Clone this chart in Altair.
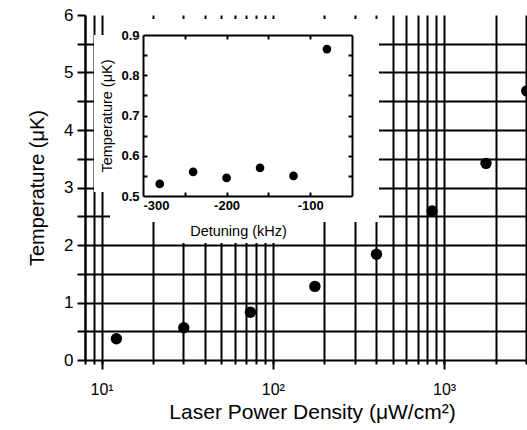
import altair as alt
import pandas as pd

# ---- data ----
power = [12.2, 30.2, 74, 176, 403, 851, 1758, 3040]          # uW/cm^2
temperature = [0.37, 0.56, 0.83, 1.28, 1.84, 2.59, 3.42, 4.68]  # uK

detuning = [-280, -240, -200, -160, -120, -80]                # kHz
inset_temperature = [0.53, 0.56, 0.545, 0.57, 0.55, 0.865]    # uK

# ---- tick / grid values ----
x_major = [10, 100, 1000]
x_grid = [8, 9, 10, 20, 30, 40, 50, 60, 70, 80, 90, 100, 200, 300, 400, 500,
          600, 700, 800, 900, 1000, 2000, 3000]
y_ticks = [0, 0.5, 1, 1.5, 2, 2.5, 3, 3.5, 4, 4.5, 5, 5.5, 6]
y_grid = [0, 0.5, 1, 1.5, 2, 2.5, 3, 3.5, 4, 4.5, 5, 5.5]
inset_x_labels = [-300, -200, -100]
inset_x_ticks = [-250, -200, -150, -100]
inset_y_labels = [0.5, 0.6, 0.7, 0.8, 0.9]
inset_y_ticks = [0.55, 0.6, 0.65, 0.7, 0.75, 0.8, 0.85]

main_df = pd.DataFrame({"power": power, "temp": temperature})
inset_df = pd.DataFrame({"det": detuning, "temp": inset_temperature})

W, H = 442, 345
FONT = "Liberation Sans"

xs_main = alt.Scale(type="log", domain=[8, 3050], nice=False)
ys_main = alt.Scale(domain=[0, 6], nice=False, zero=False)
xs_in = alt.Scale(domain=[-300, -50], range=[58, 267], nice=False, zero=False)
ys_in = alt.Scale(domain=[0.5, 0.9], range=[181, 20], nice=False, zero=False)

# main points with labelled axes
main_pts = alt.Chart(main_df).mark_circle(size=130, color="black", opacity=1).encode(
    x=alt.X("power:Q", scale=xs_main, axis=alt.Axis(
        orient="bottom", values=x_major, grid=False, domain=False,
        tickSize=9, tickWidth=2, tickColor="black",
        labelExpr="datum.value == 10 ? '10¹' : (datum.value == 100 ? '10²' : '10³')",
        labelFont=FONT, labelFontSize=16, labelColor="black", labelPadding=12,
        title="Laser Power Density (μW/cm²)", titleFont=FONT, titleFontSize=21,
        titleFontWeight="normal", titleColor="black", titlePadding=4, titleX=227)),
    y=alt.Y("temp:Q", scale=ys_main, axis=alt.Axis(
        orient="left", values=y_ticks, grid=False,
        domain=True, domainColor="black", domainWidth=2,
        tickSize=8, tickWidth=2, tickColor="black",
        labelExpr="datum.value % 1 == 0 ? '' + datum.value : ''",
        labelFont=FONT, labelFontSize=17, labelColor="black", labelPadding=4,
        title="Temperature (μK)", titleFont=FONT, titleFontSize=20,
        titleFontWeight="normal", titleColor="black", titlePadding=16)),
)

# grid layer (invisible marks, grid + minor ticks)
main_grid = alt.Chart(main_df).mark_point(opacity=0).encode(
    x=alt.X("power:Q", scale=xs_main, axis=alt.Axis(
        orient="bottom", values=x_grid, grid=True, gridColor="black",
        gridWidth=2, gridOpacity=1, domain=False, labels=False,
        tickSize=4, tickWidth=2, tickColor="black", title=None)),
    y=alt.Y("temp:Q", scale=ys_main, axis=alt.Axis(
        orient="left", values=y_grid, grid=True, gridColor="black",
        gridWidth=2, gridOpacity=1, domain=False, labels=False,
        ticks=False, tickSize=0, title=None)),
)

# white background behind the inset (covers the grid)
def mask(x0, x1, y0, y1):
    return alt.Chart(pd.DataFrame({"m": [0]})).mark_rect(color="white", opacity=1).encode(
        x=alt.value(x0), x2=alt.value(x1), y=alt.value(y0), y2=alt.value(y1))

masks = [mask(19, 294, 4, 177), mask(25, 294, 177, 207),
         mask(9, 19, 20, 177), mask(75, 207, 207, 228)]

# inset points with labels, bottom/left borders
inset_pts = alt.Chart(inset_df).mark_circle(size=75, color="black", opacity=1).encode(
    x=alt.X("det:Q", scale=xs_in, axis=alt.Axis(
        orient="bottom", offset=-(H - 181), values=inset_x_labels, grid=False,
        domain=True, domainColor="black", domainWidth=2,
        ticks=False, tickSize=0, labelExpr="'' + datum.value",
        labelFont=FONT, labelFontSize=13, labelFontWeight="bold",
        labelColor="black", labelPadding=3,
        title="Detuning (kHz)", titleFont=FONT, titleFontSize=14.5,
        titleFontWeight="normal", titleColor="black", titlePadding=12,
        titleX=153, zindex=2)),
    y=alt.Y("temp:Q", scale=ys_in, axis=alt.Axis(
        orient="left", offset=-58, values=inset_y_labels, grid=False,
        domain=True, domainColor="black", domainWidth=2,
        ticks=False, tickSize=0, format=".1f",
        labelFont=FONT, labelFontSize=13, labelFontWeight="bold",
        labelColor="black", labelPadding=4,
        title="Temperature (μK)", titleFont=FONT, titleFontSize=14.5,
        titleFontWeight="normal", titleColor="black", titlePadding=6,
        zindex=2)),
)

# inward ticks on the inset bottom and left edges
inset_ticks_a = alt.Chart(inset_df).mark_point(opacity=0).encode(
    x=alt.X("det:Q", scale=xs_in, axis=alt.Axis(
        orient="top", offset=-181, values=inset_x_ticks, grid=False, domain=False,
        labels=False, tickSize=4, tickWidth=2, tickColor="black", title=None, zindex=2)),
    y=alt.Y("temp:Q", scale=ys_in, axis=alt.Axis(
        orient="right", offset=-(W - 58), values=inset_y_ticks, grid=False, domain=False,
        labels=False, tickSize=4, tickWidth=2, tickColor="black", title=None, zindex=2)),
)

# top and right borders with inward ticks
inset_ticks_b = alt.Chart(inset_df).mark_point(opacity=0).encode(
    x=alt.X("det:Q", scale=xs_in, axis=alt.Axis(
        orient="bottom", offset=-(H - 20), values=inset_x_ticks, grid=False,
        domain=True, domainColor="black", domainWidth=2,
        labels=False, tickSize=4, tickWidth=2, tickColor="black", title=None, zindex=2)),
    y=alt.Y("temp:Q", scale=ys_in, axis=alt.Axis(
        orient="left", offset=-267, values=inset_y_ticks, grid=False,
        domain=True, domainColor="black", domainWidth=2,
        labels=False, tickSize=4, tickWidth=2, tickColor="black", title=None, zindex=2)),
)

chart = alt.layer(main_grid, main_pts, *masks, inset_pts, inset_ticks_a, inset_ticks_b).resolve_scale(
    x="independent", y="independent"
).resolve_axis(
    x="independent", y="independent"
).properties(
    width=W, height=H,
    autosize=alt.AutoSizeParams(type="none"),
    padding={"left": 85, "top": 15, "right": 0, "bottom": 70},
    background="white",
).configure_view(stroke=None)

chart.save("out.html", embed_options={"renderer": "svg", "actions": False})
